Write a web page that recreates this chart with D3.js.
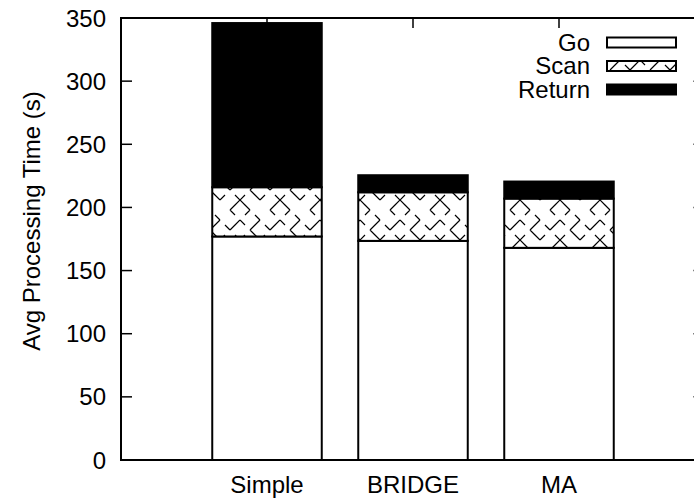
<!DOCTYPE html>
<html>
<head>
<meta charset="utf-8">
<script src="https://cdn.jsdelivr.net/npm/d3@7"></script>
<style>
  html, body { margin: 0; padding: 0; background: #fff; }
  svg { display: block; }
  text { font-family: "Liberation Sans", Arial, Helvetica, sans-serif; fill: #000; }
</style>
</head>
<body>
<svg id="chart" width="694" height="500"></svg>
<script>
// Stacked processing-time breakdown per approach
const categories = ["Simple", "BRIDGE", "MA"];
const seriesNames = ["Go", "Scan", "Return"];
const goValues = [177, 173.5, 168];
const scanValues = [39, 38.5, 39];
const returnValues = [130, 13.5, 13.5];
const yTicks = [0, 50, 100, 150, 200, 250, 300, 350];
const yLabel = "Avg Processing Time (s)";

const plotLeft = 121, plotRight = 705, plotTop = 18, plotBottom = 460;
const fontSize = 24;
const svg = d3.select("#chart");

// Histogram-style x axis: categories at 0,1,2 with one empty slot on each side
const x = d3.scaleLinear().domain([-1, 3]).range([plotLeft, plotRight]);
const y = d3.scaleLinear().domain([0, 350]).range([plotBottom, plotTop]);
const boxWidth = 0.75;

// Broken cross-hatch fill for the "Scan" segments: short diagonal arms
// meeting at the lattice crossings in V, ^, <, > and X shapes
const defs = svg.append("defs");
const T = 40, a = 5;
const pat = defs.append("pattern")
  .attr("id", "hatch")
  .attr("patternUnits", "userSpaceOnUse")
  .attr("width", T).attr("height", T);
pat.append("rect").attr("width", T).attr("height", T).attr("fill", "#fff");
const arms = { UL: [-a, -a], UR: [a, -a], DL: [-a, a], DR: [a, a] };
const shapeArms = {
  V: ["UL", "UR"], A: ["DL", "DR"], L: ["UR", "DR"], R: ["UL", "DL"],
  X: ["UL", "UR", "DL", "DR"]
};
const crossings = [
  [0, 0, "X"], [20, 0, "V"], [10, 10, "R"], [30, 10, "L"],
  [0, 20, "A"], [20, 20, "R"], [10, 30, "L"], [30, 30, "V"]
];
let hatchPath = "";
crossings.forEach(([cx, cy, s]) => {
  [-T, 0, T].forEach(ox => [-T, 0, T].forEach(oy => {
    shapeArms[s].forEach(k => {
      const [dx, dy] = arms[k];
      hatchPath += `M${cx + ox},${cy + oy}l${dx},${dy}`;
    });
  }));
});
pat.append("path").attr("d", hatchPath)
  .attr("stroke", "#000").attr("stroke-width", 1.2).attr("fill", "none");

const fills = { Go: "#fff", Scan: "url(#hatch)", Return: "#000" };

// Tick marks (drawn first so bars sit over the inner bottom ticks)
const ticks = svg.append("g").attr("stroke", "#000").attr("stroke-width", 1.5);
yTicks.forEach(t => {
  ticks.append("line").attr("x1", plotLeft).attr("x2", plotLeft + 11).attr("y1", y(t)).attr("y2", y(t));
  ticks.append("line").attr("x1", plotRight).attr("x2", plotRight - 11.5).attr("y1", y(t)).attr("y2", y(t));
});
categories.forEach((c, i) => {
  ticks.append("line").attr("x1", x(i)).attr("x2", x(i)).attr("y1", plotTop).attr("y2", plotTop + 10);
  ticks.append("line").attr("x1", x(i)).attr("x2", x(i)).attr("y1", plotBottom).attr("y2", plotBottom - 10);
});

// Stacked bars
const rows = categories.map((c, i) => ({ cat: c, idx: i, Go: goValues[i], Scan: scanValues[i], Return: returnValues[i] }));
const stacked = d3.stack().keys(seriesNames)(rows);
const bars = svg.append("g");
stacked.forEach(layer => {
  bars.selectAll(null)
    .data(layer)
    .join("rect")
    .attr("x", d => x(d.data.idx - boxWidth / 2))
    .attr("width", d => x(boxWidth) - x(0))
    .attr("y", d => y(d[1]))
    .attr("height", d => y(d[0]) - y(d[1]))
    .attr("fill", fills[layer.key])
    .attr("stroke", "#000")
    .attr("stroke-width", 2);
});

// Border
svg.append("rect")
  .attr("x", plotLeft).attr("y", plotTop)
  .attr("width", plotRight - plotLeft).attr("height", plotBottom - plotTop)
  .attr("fill", "none").attr("stroke", "#000").attr("stroke-width", 2);

// Y tick labels
svg.append("g").selectAll("text")
  .data(yTicks).join("text")
  .attr("x", 106).attr("y", d => y(d))
  .attr("text-anchor", "end").attr("dominant-baseline", "central")
  .attr("font-size", fontSize)
  .text(d => d);

// X category labels
svg.append("g").selectAll("text")
  .data(categories).join("text")
  .attr("x", (d, i) => x(i)).attr("y", 493)
  .attr("text-anchor", "middle")
  .attr("font-size", fontSize)
  .text(d => d);

// Y axis title
svg.append("text")
  .attr("transform", "translate(40,221) rotate(-90)")
  .attr("text-anchor", "middle")
  .attr("font-size", fontSize)
  .text(yLabel);

// Legend
const legendY = [42, 65.5, 89];
const legend = svg.append("g");
seriesNames.forEach((s, i) => {
  legend.append("text")
    .attr("x", 590).attr("y", legendY[i])
    .attr("text-anchor", "end").attr("dominant-baseline", "central")
    .attr("font-size", fontSize)
    .text(s);
  legend.append("rect")
    .attr("x", 607).attr("y", legendY[i] - 4.5)
    .attr("width", 69).attr("height", 10)
    .attr("fill", fills[s])
    .attr("stroke", "#000").attr("stroke-width", 2);
});
</script>
</body>
</html>
